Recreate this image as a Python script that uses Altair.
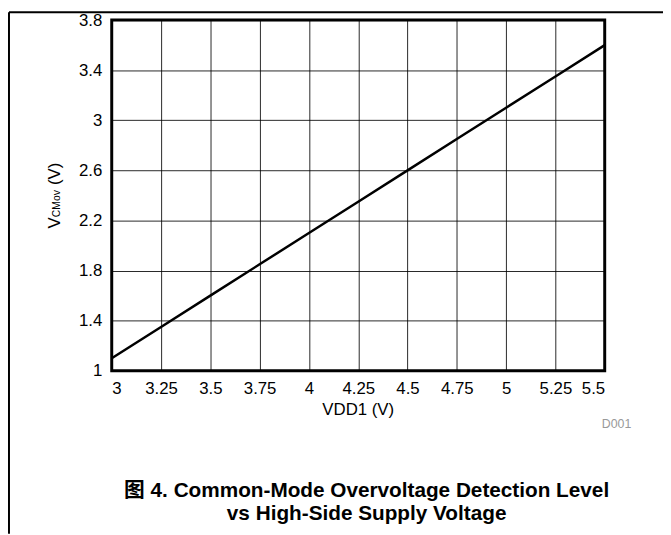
import altair as alt
import pandas as pd

# Data
vdd1 = [3.0, 3.25, 3.5, 3.75, 4.0, 4.25, 4.5, 4.75, 5.0, 5.25, 5.5]
vcmov = [1.10, 1.35, 1.60, 1.85, 2.10, 2.35, 2.60, 2.85, 3.10, 3.35, 3.60]

x_ticks = [3, 3.25, 3.5, 3.75, 4, 4.25, 4.5, 4.75, 5, 5.25, 5.5]
y_ticks = [1, 1.4, 1.8, 2.2, 2.6, 3, 3.4, 3.8]

caption_1 = "图 4. Common-Mode Overvoltage Detection Level"
caption_2 = "vs High-Side Supply Voltage"
x_title = "VDD1 (V)"
code_label = "D001"

df = pd.DataFrame({"vdd1": vdd1, "vcmov": vcmov})

FONT = "Liberation Sans, Arial, Noto Sans CJK SC"
W, H = 499, 355

line = alt.Chart(df).mark_line(color="black", strokeWidth=2.5).encode(
    x=alt.X("vdd1:Q",
            scale=alt.Scale(domain=[3, 5.5], nice=False, zero=False),
            axis=alt.Axis(values=x_ticks, title=None, labelFontSize=17,
                          labelBaseline="middle", labelPadding=18,
                          labelExpr="datum.value == 4 || datum.value == 5 || datum.value == 3 ? format(datum.value, 'd') : (datum.value * 100 % 50 == 0 ? format(datum.value, '.1f') : format(datum.value, '.2f'))")),
    y=alt.Y("vcmov:Q",
            scale=alt.Scale(domain=[1, 3.8], nice=False, zero=False),
            axis=alt.Axis(values=y_ticks, title=None, labelFontSize=17,
                          labelPadding=10,
                          labelExpr="datum.value == 1 || datum.value == 3 ? format(datum.value, 'd') : format(datum.value, '.1f')")),
)

def txt(t, x, y, size, **kw):
    return alt.Chart(pd.DataFrame({"t": [t]})).mark_text(
        fontSize=size, font=FONT, **kw
    ).encode(text="t:N", x=alt.value(x), y=alt.value(y))

# y-axis title with subscript (rotated)
ybase = -52
ytitle_v = txt("V", ybase, 211, 17, angle=270, align="left", baseline="alphabetic")
ytitle_sub = txt("CMov", ybase, 199.5, 10.5, angle=270, align="left", baseline="alphabetic")
ytitle_unit = txt("(V)", ybase, 167, 17, angle=270, align="left", baseline="alphabetic")

xtitle = txt(x_title, W / 2, 395, 17, align="center", baseline="middle")
code = txt(code_label, 511, 409, 12.5, align="center", baseline="middle", color="#999999")
cap1 = txt(caption_1, 258, 477, 21, align="center", baseline="middle", fontWeight="bold")
cap2 = txt(caption_2, 258, 500, 21, align="center", baseline="middle", fontWeight="bold")

# page frame
frame_top = alt.Chart(pd.DataFrame({"a": [0]})).mark_rule(color="black", strokeWidth=2).encode(
    x=alt.value(-104), x2=alt.value(560), y=alt.value(-8))
frame_left = alt.Chart(pd.DataFrame({"a": [0]})).mark_rule(color="black", strokeWidth=2).encode(
    x=alt.value(-104), y=alt.value(-8), y2=alt.value(520))

chart = alt.layer(
    line, ytitle_v, ytitle_sub, ytitle_unit, xtitle, code, cap1, cap2, frame_top, frame_left
).properties(
    width=W, height=H,
    background="white",
    autosize=alt.AutoSizeParams(type="none"),
    padding={"left": 105, "top": 9, "right": 59, "bottom": 163},
).configure_view(
    stroke="black", strokeWidth=3
).configure_axis(
    domain=False, ticks=False, grid=True, gridColor="black", gridWidth=1, gridOpacity=0.85,
    labelFont=FONT, labelColor="black",
)

chart.save("out.html", embed_options={"renderer": "svg", "actions": False})
